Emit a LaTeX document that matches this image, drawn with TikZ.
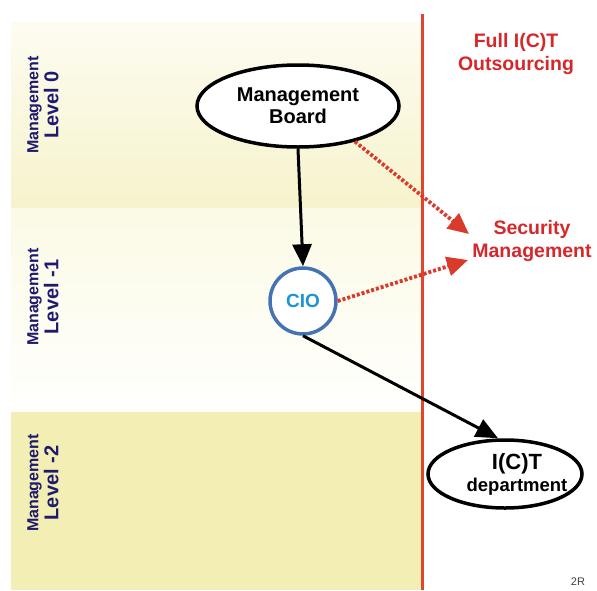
\documentclass[tikz,border=0pt]{standalone}
\usepackage{fontspec}
\setmainfont{Liberation Sans}
\usetikzlibrary{shapes.geometric,arrows.meta}

\definecolor{navy}{HTML}{1F1A6E}
\definecolor{redtext}{HTML}{D6282B}
\definecolor{redline}{HTML}{E0452E}
\definecolor{reddot}{HTML}{DA3A2A}
\definecolor{cioblue}{HTML}{4472B4}
\definecolor{ciotext}{HTML}{1B95D3}
\definecolor{bandAtop}{HTML}{FDFCF1}
\definecolor{bandAbot}{HTML}{F6F3CC}
\definecolor{bandBtop}{HTML}{FBFAE6}
\definecolor{bandBbot}{HTML}{FFFFFD}
\definecolor{bandC}{HTML}{F2EEB4}

\begin{document}
\begin{tikzpicture}[x=1pt,y=-1pt,
  lvl/.style={rotate=90,text=navy,align=center,inner sep=0pt,
    font=\bfseries\fontsize{20}{20}\selectfont},
  oval/.style={ellipse,draw=black,line width=3.5pt,fill=white,inner sep=0pt},
  redlabel/.style={text=redtext,align=center,inner sep=0pt,
    font=\bfseries\fontsize{19.5}{22.5}\selectfont},
  solidarrow/.style={draw=black,line width=3pt,
    -{Triangle[length=22pt,width=19pt]}},
  dotarrow/.style={draw=reddot,line width=3.8pt,dash pattern=on 3pt off 2pt,
    -{Triangle[length=21pt,width=19pt]}}]
\useasboundingbox (0,0) rectangle (597,590);
\fill[white] (0,0) rectangle (597,590);

% management level bands
\shade[top color=bandAtop,bottom color=bandAbot] (11,22) rectangle (421,208);
\shade[top color=bandBtop,bottom color=bandBbot] (11,208) rectangle (421,412);
\fill[bandC] (11,412) rectangle (421,590);

% outsourcing boundary
\draw[redline,line width=3.2pt] (422.5,14) -- (422.5,590);

% level labels
\node[lvl] (lvl0) at (43,105)
  {{\fontsize{16}{16}\selectfont Management}\\Level 0};
\node[lvl] (lvl1) at (43,297)
  {{\fontsize{16}{16}\selectfont Management}\\Level -1};
\node[lvl] (lvl2) at (43,483)
  {{\fontsize{16}{16}\selectfont Management}\\Level -2};

% organisation nodes
\node[oval,minimum width=202pt,minimum height=82pt,align=center,
  font=\bfseries\fontsize{20}{22}\selectfont] (mb) at (298,106)
  {Management\\Board};
\node[circle,draw=cioblue,line width=3.5pt,fill=white,minimum size=66pt,
  inner sep=0pt,text=ciotext,font=\bfseries\fontsize{19}{19}\selectfont]
  (cio) at (303,301) {CIO};
\node[oval,minimum width=154pt,minimum height=68pt] (ict) at (505,474) {};
\node[align=center,inner sep=0pt,font=\bfseries\fontsize{22}{22}\selectfont]
  (ictlabel) at (517,474)
  {I(C)T\\{\fontsize{18.5}{22}\selectfont department}};

% outsourced side
\node[redlabel] (full) at (516,54) {Full I(C)T\\Outsourcing};
\node[redlabel] (sec) at (532,241) {Security\\Management};
\coordinate (secin1) at (469,234);
\coordinate (secin2) at (468,260);

% reporting lines
\draw[solidarrow] (mb.south) -- (cio.north);
\draw[solidarrow] (cio.south) -- (ict.north -| 498,0);
\draw[dotarrow] (mb.-32) -- (secin1);
\draw[dotarrow] (cio.east) -- (secin2);

% page mark
\node[text=black!75,font=\fontsize{11}{11}\selectfont,inner sep=0pt]
  (pagemark) at (578,582) {2R};
\end{tikzpicture}
\end{document}
